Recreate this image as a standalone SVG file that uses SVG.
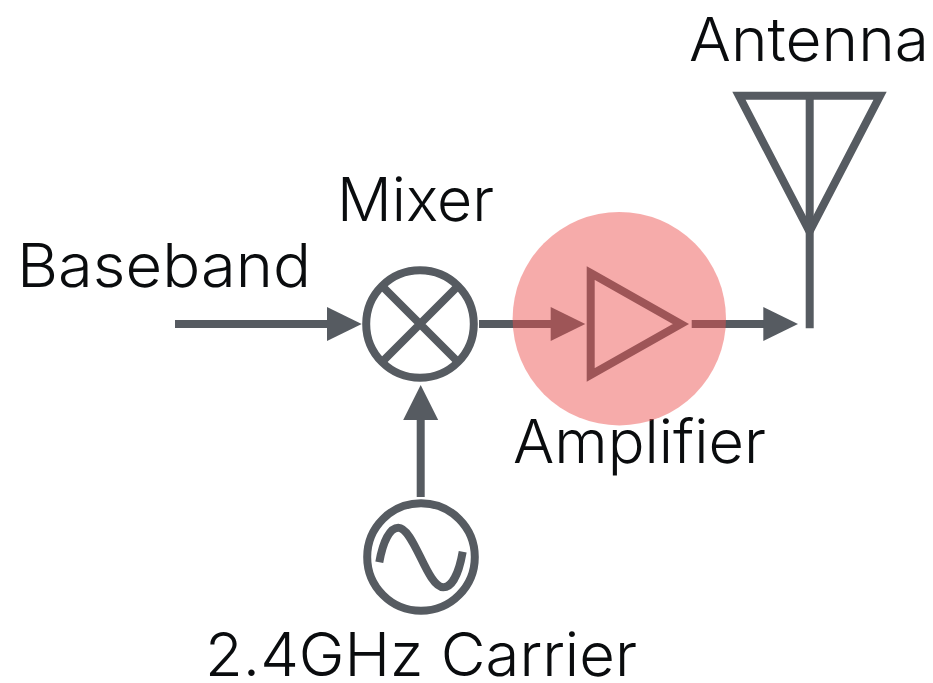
<svg xmlns="http://www.w3.org/2000/svg" width="933" height="683" viewBox="0 0 933 683">
<style>
.l{fill:none;stroke:#565b61;stroke-width:8}
.h{fill:#565b61;stroke:none}
text{font-family:"Inter","Liberation Sans",sans-serif;font-weight:290;font-size:61px;fill:#0a0c0e}
</style>
<rect width="933" height="683" fill="#fff"/>
<g id="connectors">
<line class="l" x1="175" y1="324" x2="330" y2="324"/><polygon class="h" points="327,307 361.7,324 327,341"/>
<line class="l" x1="479" y1="324" x2="554" y2="324"/><polygon class="h" points="550.7,307 585.3,324 550.7,341"/>
<line class="l" x1="691.7" y1="324" x2="767" y2="324"/><polygon class="h" points="763.3,307 798,324 763.3,341"/>
<line class="l" x1="420.7" y1="497" x2="420.7" y2="417"/><polygon class="h" points="403.2,420 420.7,385 438.2,420"/>
</g>
<g id="baseband"><text x="17" y="287" textLength="294" lengthAdjust="spacingAndGlyphs">Baseband</text></g>
<g id="mixer">
<circle class="l" cx="420" cy="324" r="53.8"/>
<path class="l" d="M382,286L458,362M458,286L382,362"/>
<text x="337" y="220.5" textLength="157" lengthAdjust="spacingAndGlyphs">Mixer</text>
</g>
<g id="carrier">
<circle class="l" cx="421" cy="557" r="53.8"/>
<path class="l" d="M379.3,562.3C383,541 390,527.7 398.3,527.7C414,527.7 427,587.3 443.3,587.3C452,587.3 459,573 462.7,551.7"/>
<text x="205" y="676" textLength="432" lengthAdjust="spacingAndGlyphs">2.4GHz Carrier</text>
</g>
<g id="antenna">
<path class="l" d="M738.9,95.7H880.1L809.5,231.5Z"/>
<path class="l" d="M809.7,95.7V328.3"/>
<text x="689" y="61" textLength="240" lengthAdjust="spacingAndGlyphs">Antenna</text>
</g>
<g id="amplifier">
<polygon class="l" points="590.7,273 680.9,324 590.7,375"/>
<text x="513" y="463" textLength="253" lengthAdjust="spacingAndGlyphs">Amplifier</text>
<circle cx="619.3" cy="318.7" r="106.7" fill="#ec504e" fill-opacity=".48"/>
</g>
</svg>
